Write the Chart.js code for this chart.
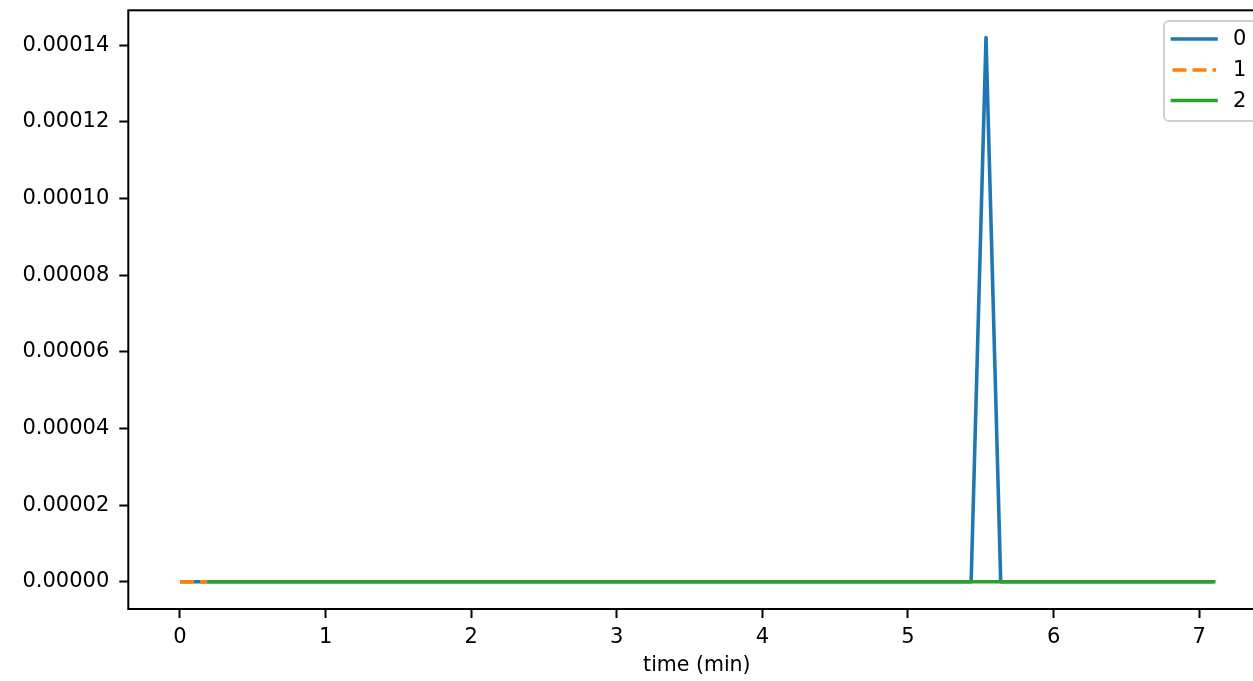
<!DOCTYPE html>
<html>
<head>
<meta charset="utf-8">
<script src="https://cdn.jsdelivr.net/npm/chart.js@4/dist/chart.umd.min.js"></script>
<style>
  html, body { margin: 0; padding: 0; background: #fff; overflow: hidden; }
  #wrap { width: 1253px; height: 681px; overflow: hidden; position: relative; }
  canvas { display: block; }
</style>
</head>
<body>
<div id="wrap"><canvas id="c" width="1275" height="681"></canvas></div>
<script>
// ---- data ----
const seriesNames = ['0', '1', '2'];
const time0 = [0, 5.434, 5.536, 5.637, 7.1];
const values0 = [0, 0, 0.000142, 0, 0];
const time1 = [0, 0.19];
const values1 = [0, 0];
const time2 = [0.2, 7.1];
const values2 = [0, 0];
const xTicks = [0, 1, 2, 3, 4, 5, 6, 7];
const yTicks = [0, 0.00002, 0.00004, 0.00006, 0.00008, 0.00010, 0.00012, 0.00014];
const xTitle = 'time (min)';

const colors = ['#1f77b4', '#ff7f0e', '#2ca02c'];
const FONT = '"DejaVu Sans", sans-serif';

function pts(t, v) { return t.map((x, i) => ({ x: x, y: v[i] })); }

const xMin = -0.355, xMax = 7.455;
const yMax = 0.000142 * 1.05, yMin = -0.000142 * 0.05;

const spinePlugin = {
  id: 'spines',
  afterDatasetsDraw(chart) {
    const { ctx, chartArea: a } = chart;
    ctx.save();
    ctx.strokeStyle = '#000';
    ctx.lineWidth = 2;
    ctx.strokeRect(a.left, a.top, a.right - a.left, a.bottom - a.top);
    ctx.restore();
  }
};

const legendPlugin = {
  id: 'mplLegend',
  afterDraw(chart) {
    const ctx = chart.ctx;
    ctx.save();
    const bx = 1164, by = 21, bw = 120, bh = 100, r = 5;
    ctx.beginPath();
    ctx.moveTo(bx + r, by);
    ctx.lineTo(bx + bw - r, by);
    ctx.arcTo(bx + bw, by, bx + bw, by + r, r);
    ctx.lineTo(bx + bw, by + bh - r);
    ctx.arcTo(bx + bw, by + bh, bx + bw - r, by + bh, r);
    ctx.lineTo(bx + r, by + bh);
    ctx.arcTo(bx, by + bh, bx, by + bh - r, r);
    ctx.lineTo(bx, by + r);
    ctx.arcTo(bx, by, bx + r, by, r);
    ctx.closePath();
    ctx.fillStyle = 'rgba(255,255,255,0.8)';
    ctx.fill();
    ctx.strokeStyle = '#d0d0d0';
    ctx.lineWidth = 2;
    ctx.stroke();
    const ys = [39, 70, 100.5];
    chart.data.datasets.forEach((ds, i) => {
      ctx.beginPath();
      ctx.strokeStyle = ds.borderColor;
      ctx.lineWidth = ds.borderWidth;
      ctx.setLineDash(ds.borderDash || []);
      ctx.lineCap = ds.borderDash && ds.borderDash.length ? 'butt' : 'square';
      ctx.moveTo(1172.5, ys[i]);
      ctx.lineTo(1216, ys[i]);
      ctx.stroke();
      ctx.setLineDash([]);
      ctx.fillStyle = '#000';
      ctx.font = '21px ' + FONT;
      ctx.textBaseline = 'middle';
      ctx.textAlign = 'left';
      ctx.fillText(ds.label, 1233, ys[i] + 1);
    });
    ctx.restore();
  }
};

new Chart(document.getElementById('c'), {
  type: 'line',
  data: {
    datasets: [
      { label: seriesNames[0], order: 3, data: pts(time0, values0), borderColor: colors[0], borderWidth: 3.6,
        borderJoinStyle: 'round', borderCapStyle: 'butt', pointRadius: 0, tension: 0, fill: false },
      { label: seriesNames[1], order: 2, data: pts(time1, values1), borderColor: colors[1], borderWidth: 3.6,
        borderDash: [14, 6], borderCapStyle: 'butt', pointRadius: 0, tension: 0, fill: false },
      { label: seriesNames[2], order: 1, data: pts(time2, values2), borderColor: colors[2], borderWidth: 3.6,
        borderJoinStyle: 'round', borderCapStyle: 'square', pointRadius: 0, tension: 0, fill: false }
    ]
  },
  options: {
    responsive: false,
    animation: false,
    devicePixelRatio: 1,
    layout: { padding: { left: 0.3, top: 10.3, right: 9.6, bottom: 0 } },
    plugins: { legend: { display: false }, tooltip: { enabled: false }, title: { display: false } },
    scales: {
      x: {
        type: 'linear', min: xMin, max: xMax,
        afterFit(s) { s.height = 72; s.paddingLeft = 0; s.paddingRight = 0; },
        afterBuildTicks(s) { s.ticks = xTicks.map(v => ({ value: v })); },
        border: { display: false },
        grid: { display: true, drawOnChartArea: false, drawTicks: true, tickLength: 9, tickWidth: 2, tickColor: '#000' },
        ticks: { color: '#000', font: { family: FONT, size: 21 }, padding: 7, maxRotation: 0, autoSkip: false,
                 callback: v => String(v) },
        title: { display: true, text: xTitle, color: '#000', font: { family: FONT, size: 20.5 }, padding: { top: 0, bottom: 3 } }
      },
      y: {
        type: 'linear', min: yMin, max: yMax,
        afterFit(s) { s.width = 128; s.paddingTop = 0; s.paddingBottom = 0; },
        afterBuildTicks(s) { s.ticks = yTicks.map(v => ({ value: v })); },
        border: { display: false },
        grid: { display: true, drawOnChartArea: false, drawTicks: true, tickLength: 9, tickWidth: 2, tickColor: '#000' },
        ticks: { color: '#000', font: { family: FONT, size: 21 }, padding: 10, autoSkip: false,
                 callback: v => Number(v).toFixed(5) }
      }
    }
  },
  plugins: [spinePlugin, legendPlugin]
});
</script>
</body>
</html>
